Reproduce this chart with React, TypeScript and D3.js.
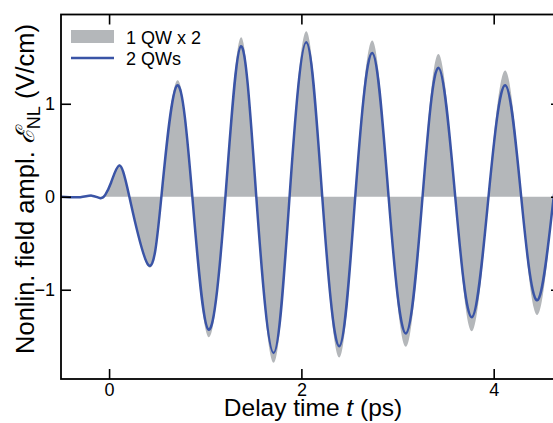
import { useRef, useEffect } from "react";
import * as d3 from "d3";

// delay time t (ps) and field amplitude (V/cm)
const timeBlue = [-0.5, -0.3, -0.18, -0.09, -0.04, 0.02, 0.104, 0.211, 0.41, 0.544, 0.707, 0.866, 1.035, 1.21, 1.372, 1.531, 1.711, 1.877, 2.051, 2.217, 2.394, 2.56, 2.737, 2.907, 3.087, 3.26, 3.426, 3.6, 3.773, 3.946, 4.12, 4.286, 4.46, 4.625, 4.72];
const twoQWs = [0, -0.005, 0.012, -0.015, 0.02, 0.15, 0.335, 0, -0.736, 0, 1.196, 0, -1.43, 0, 1.618, 0, -1.68, 0, 1.661, 0, -1.607, 0, 1.547, 0, -1.47, 0, 1.386, 0, -1.295, 0, 1.2, 0, -1.109, 0, 0.42];
const oneQWx2 = [0, -0.005, 0.012, -0.015, 0.02, 0.155, 0.35, 0, -0.755, 0, 1.25, 0, -1.51, 0, 1.715, 0, -1.786, 0, 1.78, 0, -1.73, 0, 1.68, 0, -1.614, 0, 1.536, 0, -1.446, 0, 1.357, 0, -1.267, 0, 0.5];

const xTicks = [0, 2, 4];
const yTicks = [-1, 0, 1];
const legendLabels = ["1 QW x 2", "2 QWs"];

const width = 553;
const height = 423;
const margin = { top: 14.5, right: -8, bottom: 44, left: 61 };
const grayColor = "#b4b7ba";
const blueColor = "#3a54a6";
const font = "'Liberation Sans', Arial, sans-serif";

const App = () => {
  const svgRef = useRef<SVGSVGElement>(null);

  useEffect(() => {
    document.body.style.margin = "0";
    const svg = d3.select(svgRef.current);
    svg.selectAll("*").remove();

    const x0 = margin.left;
    const x1 = width - margin.right;
    const y0 = margin.top;
    const y1 = height - margin.bottom;

    const xScale = d3.scaleLinear().domain([-0.5, 4.7]).range([x0, x1]);
    const yScale = d3.scaleLinear().domain([-1.96, 1.96]).range([y1, y0]);

    svg.append("defs")
      .append("clipPath")
      .attr("id", "plot-clip")
      .append("rect")
      .attr("x", x0)
      .attr("y", y0)
      .attr("width", x1 - x0)
      .attr("height", y1 - y0);

    const g = svg.append("g").attr("clip-path", "url(#plot-clip)");

    // 1 QW x 2 : filled area
    const area = d3
      .area<number>()
      .x((_, i) => xScale(timeBlue[i]))
      .y0(yScale(0))
      .y1((d) => yScale(d))
      .curve(d3.curveNatural);

    g.append("path").datum(oneQWx2).attr("fill", grayColor).attr("d", area);

    // 2 QWs : line
    const line = d3
      .line<number>()
      .x((_, i) => xScale(timeBlue[i]))
      .y((d) => yScale(d))
      .curve(d3.curveNatural);

    g.append("path")
      .datum(twoQWs)
      .attr("fill", "none")
      .attr("stroke", blueColor)
      .attr("stroke-width", 2.5)
      .attr("d", line);

    // axes, ticks inward on all four sides
    const styleAxis = (ax) => {
      ax.select(".domain").remove();
      ax.selectAll("line").attr("stroke", "#000").attr("stroke-width", 1.6);
      ax.selectAll("text").style("font-family", font).style("font-size", "18px").attr("fill", "#000");
    };

    svg.append("g")
      .attr("transform", `translate(0,${y1})`)
      .call(d3.axisBottom(xScale).tickValues(xTicks).tickSize(-10).tickPadding(4).tickFormat(d3.format("d")))
      .call(styleAxis);
    svg.append("g")
      .attr("transform", `translate(0,${y0})`)
      .call(d3.axisTop(xScale).tickValues(xTicks).tickSize(-10).tickFormat(() => ""))
      .call(styleAxis);
    svg.append("g")
      .attr("transform", `translate(${x0},0)`)
      .call(d3.axisLeft(yScale).tickValues(yTicks).tickSize(-10).tickPadding(6).tickFormat(d3.format("d")))
      .call(styleAxis);
    svg.append("g")
      .attr("transform", `translate(${x1},0)`)
      .call(d3.axisRight(yScale).tickValues(yTicks).tickSize(-10).tickFormat(() => ""))
      .call(styleAxis);

    svg.append("rect")
      .attr("x", x0)
      .attr("y", y0)
      .attr("width", x1 - x0)
      .attr("height", y1 - y0)
      .attr("fill", "none")
      .attr("stroke", "#000")
      .attr("stroke-width", 1.8);

    // axis titles
    const xTitle = svg.append("text")
      .attr("x", 313)
      .attr("y", 416)
      .attr("text-anchor", "middle")
      .style("font-family", font)
      .style("font-size", "24.5px");
    xTitle.append("tspan").text("Delay time ");
    xTitle.append("tspan").style("font-style", "italic").text("t");
    xTitle.append("tspan").text(" (ps)");

    const yTitle = svg.append("text")
      .attr("transform", `translate(34,189) rotate(-90)`)
      .attr("text-anchor", "middle")
      .style("font-family", font)
      .style("font-size", "25.5px");
    yTitle.append("tspan").text("Nonlin. field ampl. ");
    yTitle.append("tspan").style("font-style", "italic").text("\u2130");
    yTitle.append("tspan").attr("dy", 6).style("font-size", "18px").text("NL");
    yTitle.append("tspan").attr("dy", -6).text(" (V/cm)");

    // legend
    const lg = svg.append("g");
    lg.append("rect").attr("x", 71).attr("y", 30).attr("width", 43).attr("height", 13).attr("fill", grayColor);
    lg.append("line")
      .attr("x1", 71)
      .attr("x2", 114)
      .attr("y1", 58)
      .attr("y2", 58)
      .attr("stroke", blueColor)
      .attr("stroke-width", 2.5);
    legendLabels.forEach((label, i) => {
      lg.append("text")
        .attr("x", 126)
        .attr("y", 43.5 + i * 21)
        .style("font-family", font)
        .style("font-size", "18px")
        .text(label);
    });
  }, []);

  return <svg ref={svgRef} width={width} height={height} style={{ display: "block" }}></svg>;
};

export default App;
